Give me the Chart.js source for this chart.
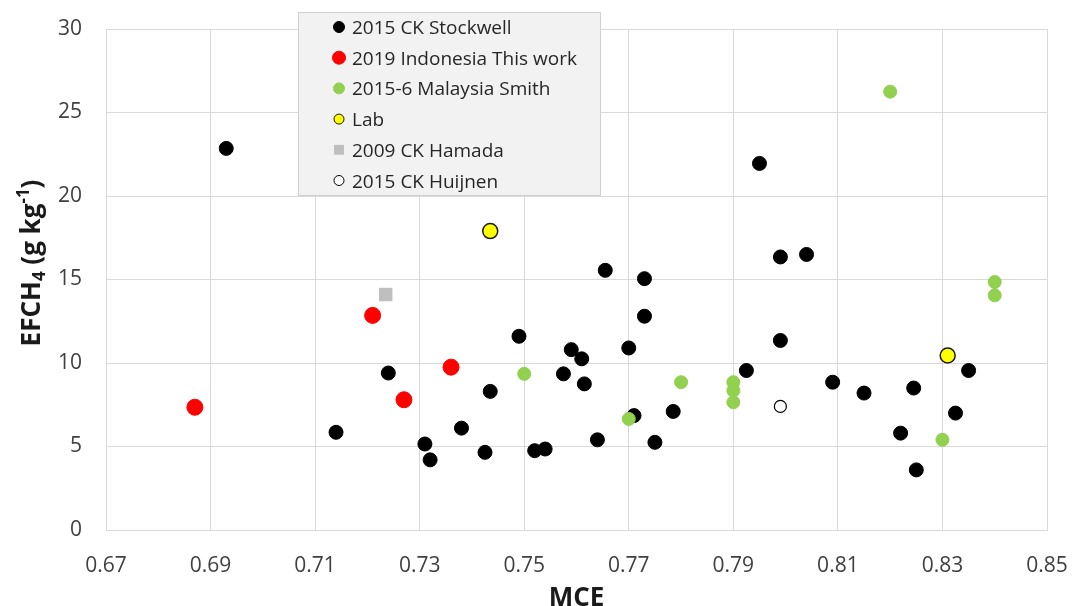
<!DOCTYPE html>
<html>
<head>
<meta charset="utf-8">
<title>EFCH4 vs MCE</title>
<script src="https://cdn.jsdelivr.net/npm/chart.js@4.4.0/dist/chart.umd.min.js"></script>
<style>
    html, body { margin: 0; padding: 0; background: #ffffff; }
    #chartBox { width: 1073px; height: 606px; }
</style>
</head>
<body>
<div id="chartBox"><canvas id="efChart" width="1073" height="606"></canvas></div>
<script>
// Axis ticks
const xTicks = [0.67, 0.69, 0.71, 0.73, 0.75, 0.77, 0.79, 0.81, 0.83, 0.85];
const yTicks = [0, 5, 10, 15, 20, 25, 30];

// 2015 CK Stockwell
const stockwellMce = [0.693, 0.714, 0.724, 0.731, 0.732, 0.738, 0.7425, 0.7435, 0.749, 0.752, 0.754, 0.7575,
    0.759, 0.761, 0.7615, 0.764, 0.7655, 0.770, 0.771, 0.773, 0.773, 0.775, 0.7785, 0.7925, 0.795, 0.799,
    0.799, 0.804, 0.809, 0.815, 0.822, 0.8245, 0.825, 0.8325, 0.835];
const stockwellEf = [22.85, 5.85, 9.4, 5.15, 4.2, 6.1, 4.65, 8.3, 11.6, 4.75, 4.85, 9.35,
    10.8, 10.25, 8.75, 5.4, 15.55, 10.9, 6.85, 15.05, 12.8, 5.25, 7.1, 9.55, 21.95, 16.35,
    11.35, 16.5, 8.85, 8.2, 5.8, 8.5, 3.6, 7.0, 9.55];

// 2019 Indonesia This work
const indonesiaMce = [0.687, 0.721, 0.727, 0.736];
const indonesiaEf = [7.35, 12.85, 7.8, 9.75];

// 2015-6 Malaysia Smith
const malaysiaMce = [0.75, 0.77, 0.78, 0.79, 0.79, 0.79, 0.82, 0.83, 0.84, 0.84];
const malaysiaEf = [9.35, 6.65, 8.85, 8.85, 8.35, 7.65, 26.25, 5.4, 14.85, 14.05];

// Lab
const labMce = [0.7435, 0.831];
const labEf = [17.9, 10.45];

// 2009 CK Hamada
const hamadaMce = [0.7235];
const hamadaEf = [14.1];

// 2015 CK Huijnen
const huijnenMce = [0.799];
const huijnenEf = [7.4];

const toPoints = (xs, ys) => xs.map((x, i) => ({ x: x, y: ys[i] }));

const gridColor = '#d9d9d9';
const tickColor = '#404040';
const fontFamily = '"Open Sans", "Liberation Sans", sans-serif';

// Series styles; legendRadius is the marker size inside the legend box
const series = [
    { label: '2015 CK Stockwell', data: toPoints(stockwellMce, stockwellEf), fill: '#000000', border: '#000000', style: 'circle', radius: 7, borderWidth: 1, legendRadius: 5.5 },
    { label: '2019 Indonesia This work', data: toPoints(indonesiaMce, indonesiaEf), fill: '#ff0000', border: '#ff0000', style: 'circle', radius: 8, borderWidth: 1, legendRadius: 6.5 },
    { label: '2015-6 Malaysia Smith', data: toPoints(malaysiaMce, malaysiaEf), fill: '#92d050', border: '#92d050', style: 'circle', radius: 6.5, borderWidth: 1, legendRadius: 5.5 },
    { label: 'Lab', data: toPoints(labMce, labEf), fill: '#ffff00', border: '#1a1a1a', style: 'circle', radius: 7.5, borderWidth: 1.5, legendRadius: 5 },
    { label: '2009 CK Hamada', data: toPoints(hamadaMce, hamadaEf), fill: '#bfbfbf', border: '#bfbfbf', style: 'rect', radius: 9.5, borderWidth: 0, legendRadius: 7 },
    { label: '2015 CK Huijnen', data: toPoints(huijnenMce, huijnenEf), fill: '#ffffff', border: '#000000', style: 'circle', radius: 6, borderWidth: 1.2, legendRadius: 5 }
];

// Legend drawn inside the plot, like the Excel original
const boxLegend = {
    id: 'boxLegend',
    afterDraw(chart) {
        const ctx = chart.ctx;
        const left = 298, top = 12, width = 302, height = 183;
        const markerX = 339, textX = 352, firstRow = 27, rowGap = 30.7;

        ctx.save();
        ctx.fillStyle = '#f2f2f2';
        ctx.fillRect(left, top, width, height);
        ctx.strokeStyle = '#d0d0d0';
        ctx.lineWidth = 1;
        ctx.strokeRect(left + 0.5, top + 0.5, width, height);

        ctx.font = '19px ' + fontFamily;
        ctx.textAlign = 'left';
        ctx.textBaseline = 'alphabetic';
        chart.data.datasets.forEach((ds, i) => {
            const y = firstRow + i * rowGap;
            ctx.fillStyle = ds.backgroundColor;
            ctx.strokeStyle = ds.borderColor;
            Chart.helpers.drawPoint(ctx, {
                pointStyle: ds.pointStyle,
                radius: series[i].legendRadius,
                rotation: 0,
                borderWidth: ds.borderWidth
            }, markerX, y);
            ctx.fillStyle = '#262626';
            ctx.fillText(ds.label, textX, y + 7);
        });
        ctx.restore();
    }
};

// Rotated y title with subscript and superscript
const yTitle = {
    id: 'yTitle',
    afterDraw(chart) {
        const ctx = chart.ctx;
        const size = 26;
        const small = 17;
        const parts = [
            { text: 'EFCH', size: size, shift: 0 },
            { text: '4', size: small, shift: 5 },
            { text: ' (g kg', size: size, shift: 0 },
            { text: '-1', size: small, shift: -11 },
            { text: ')', size: size, shift: 0 }
        ];
        ctx.save();
        ctx.translate(39.5, 263);
        ctx.rotate(-Math.PI / 2);
        ctx.fillStyle = '#1a1a1a';
        ctx.textAlign = 'left';
        ctx.textBaseline = 'alphabetic';
        let total = 0;
        parts.forEach(p => {
            ctx.font = 'bold ' + p.size + 'px ' + fontFamily;
            p.width = ctx.measureText(p.text).width;
            total += p.width;
        });
        let x = -total / 2;
        parts.forEach(p => {
            ctx.font = 'bold ' + p.size + 'px ' + fontFamily;
            ctx.fillText(p.text, x, p.shift);
            x += p.width;
        });
        ctx.restore();
    }
};

const efChart = new Chart(document.getElementById('efChart'), {
    type: 'scatter',
    data: {
        datasets: series.map((s, i) => ({
            label: s.label,
            data: s.data,
            backgroundColor: s.fill,
            borderColor: s.border,
            pointStyle: s.style,
            pointRadius: s.radius,
            pointHoverRadius: s.radius,
            borderWidth: s.borderWidth,
            order: series.length - i // later series sit on top
        }))
    },
    options: {
        responsive: false,
        animation: false,
        layout: { padding: { left: 0, right: 26, top: 29, bottom: 0 } },
        plugins: {
            legend: { display: false },
            tooltip: { enabled: false }
        },
        scales: {
            x: {
                type: 'linear',
                min: xTicks[0],
                max: xTicks[xTicks.length - 1],
                afterBuildTicks: scale => { scale.ticks = xTicks.map(v => ({ value: v })); },
                afterFit: scale => {
                    // fixed plot box, the layout padding keeps the end labels in view
                    scale.height = 76;
                    scale.paddingLeft = 0;
                    scale.paddingRight = 0;
                },
                ticks: {
                    callback: v => v.toFixed(2),
                    color: tickColor,
                    font: { family: fontFamily, size: 21 },
                    padding: 23,
                    maxRotation: 0
                },
                grid: { color: gridColor, drawTicks: false },
                border: { color: gridColor },
                title: {
                    display: true,
                    text: 'MCE',
                    color: '#1a1a1a',
                    font: { family: fontFamily, size: 26, weight: 'bold', lineHeight: 1 },
                    padding: { top: 0, bottom: -6 }
                }
            },
            y: {
                type: 'linear',
                min: yTicks[0],
                max: yTicks[yTicks.length - 1],
                afterBuildTicks: scale => { scale.ticks = yTicks.map(v => ({ value: v })); },
                afterFit: scale => {
                    scale.width = 106;
                    scale.paddingTop = 0;
                    scale.paddingBottom = 0;
                },
                ticks: {
                    color: tickColor,
                    font: { family: fontFamily, size: 21 },
                    padding: 24
                },
                grid: { color: gridColor, drawTicks: false },
                border: { color: gridColor }
            }
        }
    },
    plugins: [boxLegend, yTitle]
});
</script>
</body>
</html>
